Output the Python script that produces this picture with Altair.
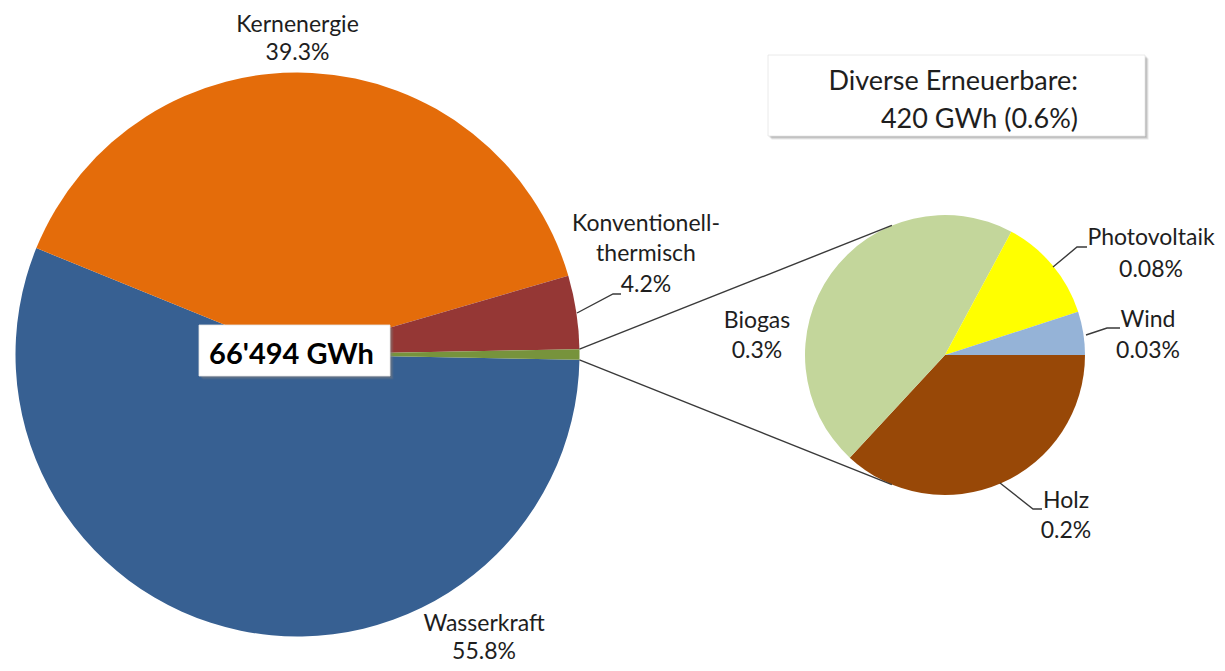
import math
import pandas as pd
import altair as alt

# ---------------- data ----------------
main_cats = ["Wasserkraft", "Kernenergie", "Konventionell-thermisch", "Diverse Erneuerbare"]
main_share = [55.8, 39.3, 4.2, 0.6]
main_colors = ["#376092", "#E46C0A", "#953735", "#77933C"]
main_label_lines = [["Wasserkraft", "55.8%"], ["Kernenergie", "39.3%"],
                    ["Konventionell-", "thermisch", "4.2%"]]

sub_cats = ["Holz", "Biogas", "Photovoltaik", "Wind"]
sub_gwh = [155, 193, 51, 21]
sub_pct_labels = ["0.2%", "0.3%", "0.08%", "0.03%"]
sub_colors = ["#984807", "#C3D69B", "#FFFF00", "#95B3D7"]

total_label = "66'494 GWh"
box_lines = ["Diverse Erneuerbare:", "420 GWh (0.6%)"]

# ---------------- layout ----------------
OFF = 8
W, H = 1209, 655
FONT = "Lato"
TXT = "#1e1e1e"
LINE = "#3a3a3a"


def px(x):
    return x - OFF


MAIN_C = (297.5, 354.5)
MAIN_R = 282
SUB_C = (945, 355)
SUB_R = 140

tot = sum(main_share)
half = math.pi * main_share[-1] / tot
main_start = math.pi / 2 + half

main_df = pd.DataFrame({
    "cat": main_cats, "v": main_share, "color": main_colors,
    "ord": list(range(len(main_cats)))})
sub_df = pd.DataFrame({
    "cat": sub_cats, "v": sub_gwh, "color": sub_colors,
    "ord": list(range(len(sub_cats)))})

main_pie = alt.Chart(main_df).mark_arc(outerRadius=MAIN_R, strokeWidth=0).encode(
    theta=alt.Theta("v:Q", stack=True,
                    scale=alt.Scale(range=[main_start, main_start + 2 * math.pi])),
    color=alt.Color("color:N", scale=None),
    order=alt.Order("ord:Q"),
    x=alt.value(px(MAIN_C[0])), y=alt.value(px(MAIN_C[1])),
)

sub_pie = alt.Chart(sub_df).mark_arc(outerRadius=SUB_R, strokeWidth=0).encode(
    theta=alt.Theta("v:Q", stack=True,
                    scale=alt.Scale(range=[math.pi / 2, math.pi / 2 + 2 * math.pi])),
    color=alt.Color("color:N", scale=None),
    order=alt.Order("ord:Q"),
    x=alt.value(px(SUB_C[0])), y=alt.value(px(SUB_C[1])),
)

# connector lines (main pie green slice edges -> tangents of the secondary pie)
tang = math.radians(112.3)
ex = MAIN_C[0] + MAIN_R * math.cos(half)
conn_rows = []
for i, s in enumerate([1, -1]):
    conn_rows.append({"id": f"c{i}", "o": 0, "x": px(ex), "y": px(MAIN_C[1] - s * MAIN_R * math.sin(half))})
    conn_rows.append({"id": f"c{i}", "o": 1, "x": px(SUB_C[0] + SUB_R * math.cos(tang)),
                      "y": px(SUB_C[1] - s * SUB_R * math.sin(tang))})

leaders = {
    "Konventionell": [(577, 313), (613, 294), (621, 294)],
    "Photovoltaik": [(1053, 267), (1077, 247), (1087, 247)],
    "Wind": [(1086, 335), (1107, 328), (1120, 328)],
    "Holz": [(1000, 483), (1033, 509), (1042, 509)],
}
lead_rows = []
for k, pts in leaders.items():
    for j, (a, b) in enumerate(pts):
        lead_rows.append({"id": k, "o": j, "x": px(a), "y": px(b)})

lines_df = pd.DataFrame(conn_rows + lead_rows)
lines = alt.Chart(lines_df).mark_line(color=LINE, strokeWidth=1.4).encode(
    x=alt.X("x:Q", scale=None, axis=None),
    y=alt.Y("y:Q", scale=None, axis=None),
    detail="id:N", order="o:Q",
)

# labels
label_pos = [
    (484, [631, 659]),
    (297.5, [32, 60]),
    (646, [231, 261, 292]),
]
lab_rows = []
for lines_txt, (cx, ys) in zip(main_label_lines, label_pos):
    for t, yy in zip(lines_txt, ys):
        lab_rows.append({"t": t, "x": px(cx), "y": px(yy)})

sub_pos = {"Holz": (1066, [508, 538]), "Biogas": (757, [328, 358]),
           "Photovoltaik": (1151, [245, 277]), "Wind": (1148, [327, 358])}
for c, p in zip(sub_cats, sub_pct_labels):
    cx, ys = sub_pos[c]
    lab_rows.append({"t": c, "x": px(cx), "y": px(ys[0])})
    lab_rows.append({"t": p, "x": px(cx), "y": px(ys[1])})

labels = alt.Chart(pd.DataFrame(lab_rows)).mark_text(
    font=FONT, fontSize=23, color=TXT, align="center", baseline="alphabetic"
).encode(
    x=alt.X("x:Q", scale=None, axis=None),
    y=alt.Y("y:Q", scale=None, axis=None),
    text="t:N",
)

one = pd.DataFrame({"a": [0]})


def box(x1, y1, x2, y2):
    layers = []
    for d, op in [(3.5, 0.18), (2.5, 0.25), (1.5, 0.3)]:
        layers.append(alt.Chart(one).mark_rect(color="#808080", opacity=op).encode(
            x=alt.value(px(x1) + d), x2=alt.value(px(x2) + d),
            y=alt.value(px(y1) + d), y2=alt.value(px(y2) + d)))
    layers.append(alt.Chart(one).mark_rect(color="white", stroke="#e4e4e4", strokeWidth=0.8).encode(
        x=alt.value(px(x1)), x2=alt.value(px(x2)),
        y=alt.value(px(y1)), y2=alt.value(px(y2))))
    return layers


center_box = box(199, 325, 390, 376)
top_box = box(768, 55, 1145, 136)

center_text = alt.Chart(pd.DataFrame({"t": [total_label]})).mark_text(
    font=FONT, fontSize=29, fontWeight="bold", color="black",
    align="center", baseline="alphabetic"
).encode(x=alt.value(px(291.5)), y=alt.value(px(364)), text="t:N")

box_text = alt.Chart(pd.DataFrame({"t": box_lines, "y": [px(90), px(128)]})).mark_text(
    font=FONT, fontSize=27, color=TXT, align="right", baseline="alphabetic"
).encode(x=alt.value(px(1078)), y=alt.Y("y:Q", scale=None, axis=None), text="t:N")

chart = alt.layer(
    main_pie, sub_pie, lines, labels, *center_box, center_text, *top_box, box_text
).resolve_scale(theta="independent").properties(
    width=W, height=H, padding=0, autosize="none", background="white"
).configure_view(stroke=None)

chart.save("out.html", embed_options={"renderer": "svg", "actions": False})
